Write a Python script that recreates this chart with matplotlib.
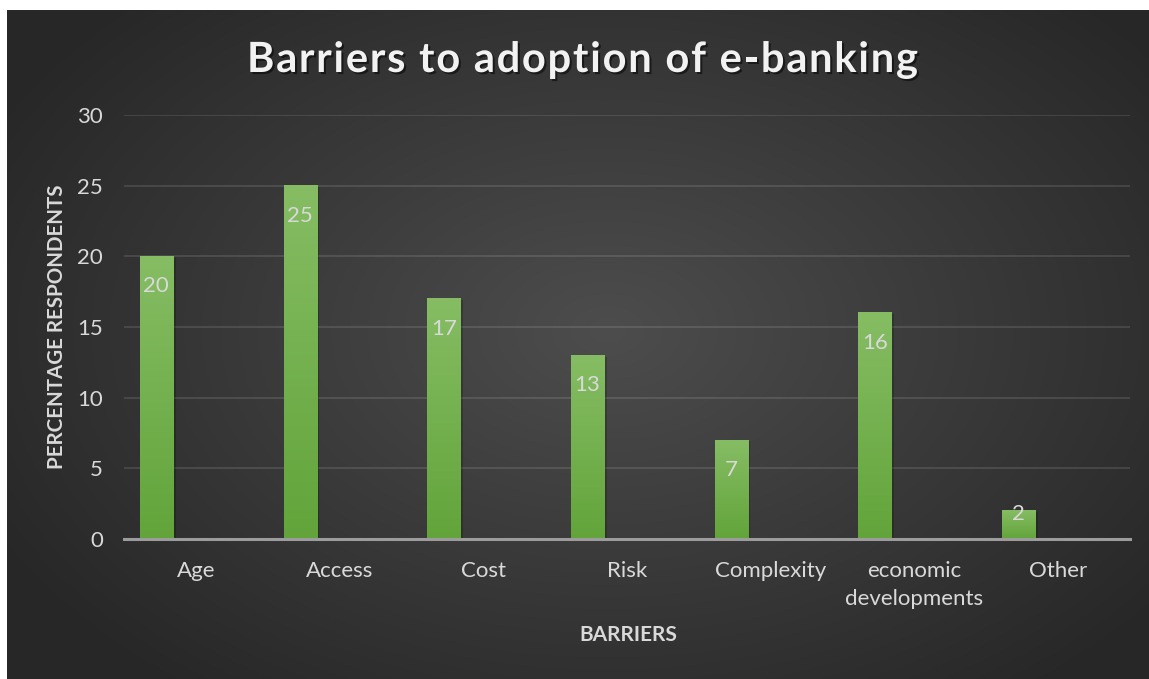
import numpy as np
import matplotlib
matplotlib.use("Agg")
import matplotlib.pyplot as plt
import matplotlib.patheffects as pe
from matplotlib.colors import LinearSegmentedColormap

plt.rcParams["font.family"] = ["Lato", "DejaVu Sans"]

categories = ["Age", "Access", "Cost", "Risk", "Complexity",
              "economic\ndevelopments", "Other"]
values = [20, 25, 17, 13, 7, 16, 2]
yticks = [0, 5, 10, 15, 20, 25, 30]

title = "Barriers to adoption of e-banking"
text_col = "#d9d9d9"

W, H = 1149, 679
fig = plt.figure(figsize=(W / 100, H / 100), dpi=100, facecolor="white")

# dark panel with radial gradient
bg = fig.add_axes([7 / W, 0, 1 - 7 / W, 1 - 10 / H], zorder=-1)
yy, xx = np.mgrid[0:669, 0:1142]
r = np.sqrt(((xx - 600) / 700.0) ** 2 + ((yy - 320) / 460.0) ** 2)
r = np.clip(r, 0, 1)
c0, c1 = 0x4d / 255, 0x27 / 255
shade = c0 + (c1 - c0) * r
bg.imshow(np.dstack([shade, shade, shade]), aspect="auto", extent=[0, 1, 1, 0])
bg.axis("off")

ax = fig.add_axes([124 / W, 140 / H, 1006 / W, 424 / H])
ax.set_facecolor("none")

x = np.arange(len(categories))
off, bw = -0.275, 0.23
green = LinearSegmentedColormap.from_list("g", ["#62a43a", "#86bd64"])
grad = np.linspace(0, 1, 256).reshape(-1, 1)
for xi, v in zip(x, values):
    ax.bar(xi + off, v, width=bw, color="#72b04d", zorder=2,
           path_effects=[pe.SimplePatchShadow(offset=(2, -1), alpha=0.18,
                                              shadow_rgbFace="black"),
                         pe.Normal()])
    ax.imshow(grad, cmap=green, origin="lower", aspect="auto", zorder=3,
              extent=[xi + off - bw / 2, xi + off + bw / 2, 0, v])
    # inside-end label; short bars keep the label near the top
    ly = v - 2.55 if v > 4 else v - 0.66
    ax.text(xi + off, ly, str(v), ha="center", va="baseline",
            color=text_col, fontsize=16, zorder=4)

ax.set_xlim(-0.5, len(categories) - 0.5)
ax.set_ylim(0, 30)
ax.set_yticks(yticks)
ax.set_xticks(x)
ax.set_xticklabels(categories, linespacing=1.5)
ax.tick_params(axis="both", length=0, colors=text_col, labelsize=16)
ax.tick_params(axis="y", pad=15)
ax.tick_params(axis="x", pad=15.5)
ax.yaxis.grid(True, color="white", alpha=0.12, lw=1.3, zorder=0)
ax.set_axisbelow(True)
for s in ["top", "right", "left"]:
    ax.spines[s].set_visible(False)
ax.spines["bottom"].set_color("#9c9c9c")
ax.spines["bottom"].set_linewidth(2.2)
ax.spines["bottom"].set_zorder(5)

fig.text(57 / W, 1 - 327 / H, "PERCENTAGE RESPONDENTS", rotation=90,
         ha="center", va="center", color=text_col, fontsize=14.8,
         fontweight="bold")
fig.text(628 / W, 1 - 635 / H, "BARRIERS", ha="center", va="center",
         color=text_col, fontsize=15, fontweight="bold")

# title with extra letter spacing
renderer = fig.canvas.get_renderer()
tkw = dict(fontsize=30, fontweight="bold", color="#f2f2f2")


def prefix_width(s):
    t = fig.text(0, 0, s + "|", **tkw)
    w = t.get_window_extent(renderer).width
    t.remove()
    return w


bar_w = prefix_width("")
natural = prefix_width(title) - bar_w
target = 671.0
spacing = (target - natural) / (len(title) - 1)
x0 = 582.5 - target / 2
shadow = [pe.withSimplePatchShadow(offset=(1.5, -1.5), alpha=0.5,
                                   shadow_rgbFace="black")]
for i, ch in enumerate(title):
    if ch == " ":
        continue
    px = x0 + (prefix_width(title[:i]) - bar_w) + i * spacing
    fig.text(px / W, 1 - 60 / H, ch, ha="left", va="center",
             path_effects=shadow, **tkw)

fig.savefig("out.png", dpi=100, facecolor="white")
